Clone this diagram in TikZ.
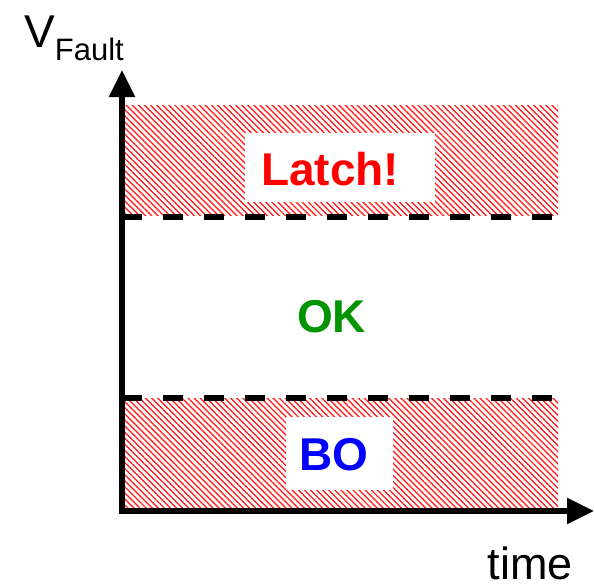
\documentclass[tikz,border=0pt]{standalone}
\usepackage{fontspec}
\setmainfont{Liberation Sans}
\usetikzlibrary{arrows.meta,patterns.meta}
\tikzset{
  hatch/.style={pattern={Lines[angle=-45,distance=4.3pt,line width=1.4pt]},pattern color=red!85},
  limit/.style={line width=6pt,dash pattern=on 20pt off 21pt},
  axis/.style={line width=5.5pt,-{Triangle[length=27pt,width=25pt]}},
  clearbox/.style={fill=white},
  label/.style={font=\fontsize{46}{50}\selectfont\bfseries,inner sep=0pt,anchor=base west},
  plain/.style={inner sep=0pt},
}
\begin{document}
\begin{tikzpicture}[x=1pt,y=-1pt]
\useasboundingbox (0,0) rectangle (594,587);
% hatched bands
\fill[hatch] (125,105) rectangle (558,215);
\fill[hatch] (125,398) rectangle (558,510);
% white boxes
\fill[clearbox] (245,133) rectangle (435,202);
\fill[clearbox] (286,417) rectangle (393,490);
% labels
\node[label,text=red] (latch) at (261,185) {Latch!};
\node[label,text=green!58!black] (ok) at (297,332) {OK};
\node[label,text=blue] (bo) at (299,470) {BO};
% dashed limits
\coordinate (hiL) at (122,217);
\coordinate (hiR) at (558,217);
\coordinate (loL) at (122,398);
\coordinate (loR) at (558,398);
\draw[limit] (hiL) -- (hiR);
\draw[limit] (loL) -- (loR);
% axes
\coordinate (origin) at (122,511);
\coordinate (ytip) at (122,70);
\coordinate (xtip) at (594,511);
\draw[axis] ([yshift=2.75pt]origin) -- (ytip);
\draw[axis] ([xshift=-2.75pt]origin) -- (xtip);
% axis labels
\node[plain,font=\fontsize{46}{50}\selectfont,anchor=base west] (vlab) at (24,47) {V\raisebox{-13pt}{\fontsize{31}{34}\selectfont Fault}};
\node[plain,font=\fontsize{45}{50}\selectfont,anchor=base east] (tlab) at (573,579) {time};
\end{tikzpicture}
\end{document}
